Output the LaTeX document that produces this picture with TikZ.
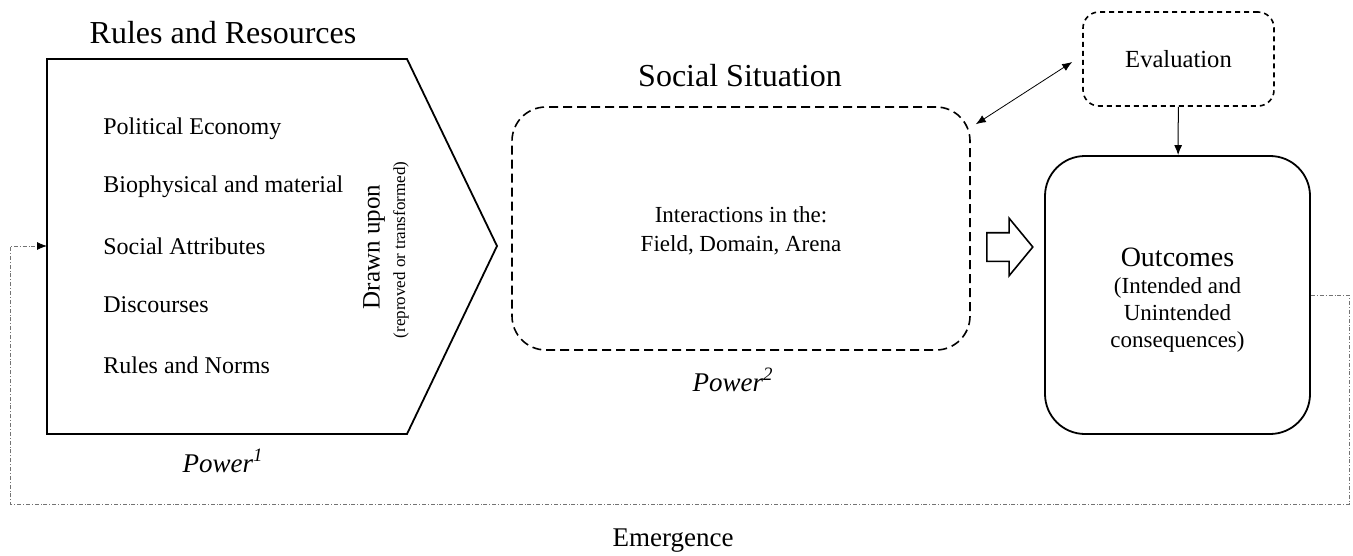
\documentclass[tikz,border=0pt]{standalone}
\usepackage{fontspec}
\setmainfont{Liberation Serif}
\usetikzlibrary{arrows.meta,positioning,shapes.arrows}

\begin{document}
\begin{tikzpicture}[x=0.5pt,y=-0.5pt, line/.style={-{Latex[length=5pt,width=4pt]}}, frame/.style={draw,line width=0.9pt}, dashbox/.style={draw,line width=0.8pt,dash pattern=on 4.5pt off 2.5pt,rounded corners=17pt,inner sep=0pt,align=center}, loopline/.style={draw=black!55,line width=0.4pt,dash pattern=on 2pt off 1pt on 0.4pt off 1pt}, title/.style={font=\fontsize{16}{19}\selectfont}, item/.style={anchor=west,inner sep=0pt,font=\fontsize{12}{14}\selectfont}, power/.style={font=\fontsize{13.5}{16}\selectfont\itshape}]
\useasboundingbox (0,0) rectangle (1353,556);
% rules and resources
\draw[frame] (47,59) -- (407,59) -- (497,246) -- (407,434) -- (47,434) -- cycle;
\coordinate (rr) at (47,246);
\node[title] (rrtitle) at (223,33) {Rules and Resources};
\foreach \name/\y/\txt in {pe/129/Political Economy,bio/187/Biophysical and material,soc/246/Social Attributes,disc/305/Discourses,norm/365/Rules and Norms}
  \node[item] (\name) at (103,\y) {\txt};
\node[rotate=90,inner sep=0pt,font=\fontsize{12.5}{14}\selectfont] (drawn) at (374,247) {Drawn upon};
\node[rotate=90,inner sep=0pt,font=\fontsize{8.5}{10}\selectfont] (drawnsub) at (401,250) {(reproved or transformed)};
\node[power] (pow1) at (223,461) {Power\textsuperscript{1}};
% social situation
\node[dashbox,minimum width=229pt,minimum height=121.5pt,font=\fontsize{11.5}{14.5}\selectfont] (situ) at (741,228.5) {\rule{0pt}{10pt}Interactions in the:\\Field, Domain, Arena};
\node[title] (situtitle) at (740,76) {Social Situation};
\node[power] (pow2) at (733,380) {Power\textsuperscript{2}};
\node[single arrow,draw,line width=0.8pt,anchor=tail,inner sep=6.75pt,minimum height=23pt,single arrow head extend=7.25pt,single arrow tip angle=101] (flow) at (986,247) {};
% outcomes and evaluation
\node[frame,rounded corners=20pt,minimum width=132.5pt,minimum height=139pt,align=center,font=\fontsize{11.5}{13.6}\selectfont] (outc) at (1177.5,295) {{\fontsize{14}{15}\selectfont\rule{0pt}{14.5pt}Outcomes}\\(Intended and\\Unintended\\consequences)};
\node[dashbox,rounded corners=8pt,dash pattern=on 2.5pt off 2pt,minimum width=95.5pt,minimum height=47pt,font=\fontsize{12.3}{14}\selectfont] (eval) at (1178.5,59) {Evaluation};
\draw[line,line width=0.5pt] (eval) -- (outc);
\draw[{Latex[length=5pt,width=4pt]}-{Latex[length=5pt,width=4pt]},line width=0.4pt] ([shift={(5,18)}]situ.north east) -- ([shift={(-10,3)}]eval.west);
% emergence loop
\draw[loopline,-{Latex[length=5pt,width=4pt,fill=black,color=black]}] (outc.east) -| (1349,504) -| (10,246) -- (rr);
\node[font=\fontsize{13.5}{16}\selectfont] (emerg) at (673,541) {Emergence};
\end{tikzpicture}
\end{document}
